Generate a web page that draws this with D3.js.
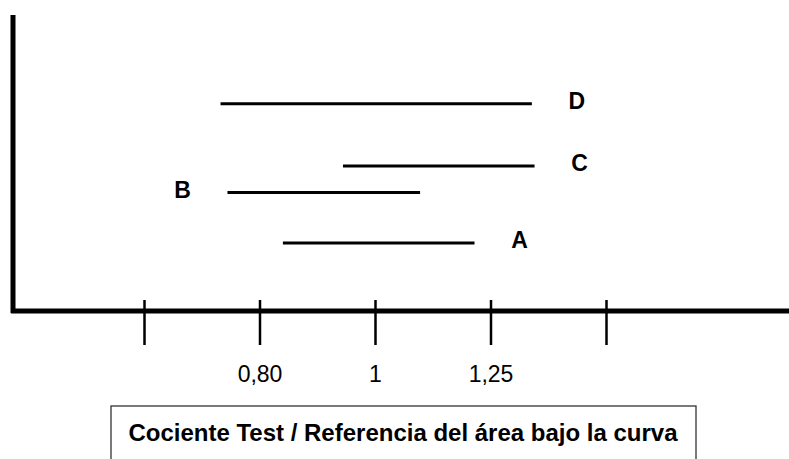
<!DOCTYPE html>
<html>
<head>
<meta charset="utf-8">
<script src="https://cdn.jsdelivr.net/npm/d3@7"></script>
<style>
  body { margin: 0; background: #fff; }
  text { font-family: "Liberation Sans", Arial, Helvetica, sans-serif; fill: #000; }
</style>
</head>
<body>
<div id="chart"></div>
<script>
const width = 789;
const height = 459;

// Products and their 90% confidence intervals (test / reference AUC ratio)
const products = ["A", "B", "C", "D"];
const lowerCI = [0.837, 0.752, 0.940, 0.742];
const upperCI = [1.212, 1.091, 1.361, 1.354];
const rowLevel = [2.3, 4.0, 4.9, 7.0];
const labelSide = ["right", "left", "right", "right"];

// Axis ticks (log scale, symmetric around 1)
const tickValues = [0.64, 0.8, 1, 1.25, 1.5625];
const tickLabels = ["", "0,80", "1", "1,25", ""];

const axisTitle = "Cociente Test / Referencia del área bajo la curva";

const axisY = 311;
const axisLeft = 13;

const svg = d3.select("#chart")
  .append("svg")
  .attr("width", width)
  .attr("height", height);

const xScale = d3.scaleLog()
  .domain([0.64, 1.5625])
  .range([144, 606]);

const yScale = d3.scaleLinear()
  .domain([0, 10])
  .range([axisY, 15]);

let rows = products.map(function(p, i) {
  return { name: p, lo: lowerCI[i], hi: upperCI[i], level: rowLevel[i], side: labelSide[i] };
});

// Vertical axis line
svg.append("line")
  .attr("x1", axisLeft)
  .attr("x2", axisLeft)
  .attr("y1", yScale(10))
  .attr("y2", axisY + 2)
  .attr("stroke", "#000")
  .attr("stroke-width", 5);

// Horizontal axis line
svg.append("line")
  .attr("x1", axisLeft - 2)
  .attr("x2", width)
  .attr("y1", axisY)
  .attr("y2", axisY)
  .attr("stroke", "#000")
  .attr("stroke-width", 5);

const xAxis = svg.append("g")
  .attr("transform", "translate(0," + axisY + ")")
  .call(d3.axisBottom(xScale)
    .tickValues(tickValues)
    .tickSize(34)
    .tickSizeOuter(0)
    .tickFormat(function(d, i) { return tickLabels[i]; }));

xAxis.select(".domain").remove();

xAxis.selectAll(".tick line")
  .attr("y1", -11)
  .attr("y2", 34)
  .attr("stroke", "#000")
  .attr("stroke-width", 2.5);

xAxis.selectAll(".tick text")
  .attr("y", 71)
  .attr("dy", null)
  .attr("font-size", "23px")
  .attr("font-family", "Liberation Sans, Arial, sans-serif")
  .attr("fill", "#000");

// Confidence interval lines
svg.selectAll(".ci")
  .data(rows)
  .enter()
  .append("line")
  .attr("class", "ci")
  .attr("x1", function(d) { return xScale(d.lo); })
  .attr("x2", function(d) { return xScale(d.hi); })
  .attr("y1", function(d) { return yScale(d.level); })
  .attr("y2", function(d) { return yScale(d.level); })
  .attr("stroke", "#000")
  .attr("stroke-width", 3);

svg.selectAll(".ci-label")
  .data(rows)
  .enter()
  .append("text")
  .attr("class", "ci-label")
  .attr("x", function(d) {
    return d.side === "left" ? xScale(d.lo) - 45 : xScale(d.hi) + 45;
  })
  .attr("y", function(d) { return yScale(d.level) + 5; })
  .attr("text-anchor", "middle")
  .attr("font-size", "23px")
  .attr("font-weight", "bold")
  .text(function(d) { return d.name; });

// Axis title box
svg.append("rect")
  .attr("x", 111)
  .attr("y", 406)
  .attr("width", 585)
  .attr("height", 80)
  .attr("fill", "none")
  .attr("stroke", "#333")
  .attr("stroke-width", 1.3);

svg.append("text")
  .attr("x", 403)
  .attr("y", 441)
  .attr("text-anchor", "middle")
  .attr("font-size", "24px")
  .attr("font-weight", "bold")
  .text(axisTitle);
</script>
</body>
</html>
